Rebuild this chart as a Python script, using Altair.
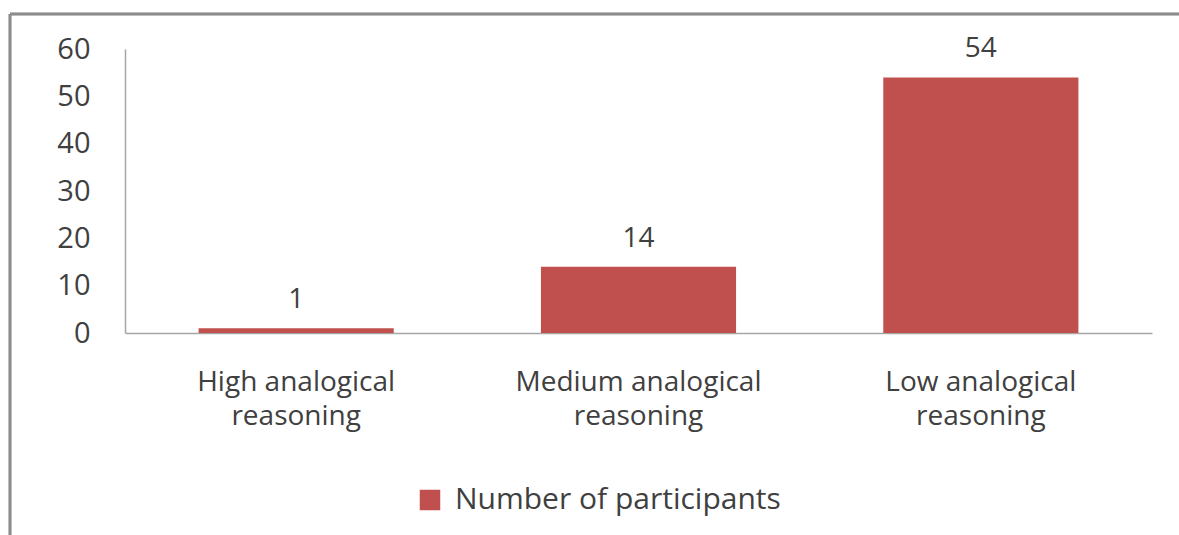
import altair as alt
import pandas as pd

categories = ["High analogical reasoning", "Medium analogical reasoning", "Low analogical reasoning"]
values = [1, 14, 54]
series = ["Number of participants"] * 3

df = pd.DataFrame({"category": categories, "value": values, "series": series})

FONT = "Open Sans"
TXT = "#404040"

base = alt.Chart(df)

bars = base.mark_bar(color="#C0504D").encode(
    x=alt.X("category:N", sort=categories, title=None,
            scale=alt.Scale(paddingInner=0.43, paddingOuter=0.215),
            axis=alt.Axis(labelAngle=0, labelFont=FONT, labelFontSize=28, labelColor=TXT,
                          labelLineHeight=34, labelPadding=35, ticks=False, domainColor="#A6A6A6",
                          domainWidth=1.5, labelLimit=0,
                          labelExpr="[substring(datum.label,0,lastindexof(datum.label,' ')), substring(datum.label,lastindexof(datum.label,' ')+1)]")),
    y=alt.Y("value:Q", title=None, scale=alt.Scale(domain=[0, 60]),
            axis=alt.Axis(values=[0, 10, 20, 30, 40, 50, 60], grid=False, ticks=False,
                          labelFont=FONT, labelFontSize=29, labelColor=TXT, labelPadding=35,
                          domainColor="#A6A6A6", domainWidth=1.5)),
    fill=alt.Fill("series:N", scale=alt.Scale(range=["#C0504D"]),
                  legend=alt.Legend(title=None, orient="none", legendX=290, legendY=436,
                                    symbolType="square", symbolSize=420, symbolStrokeWidth=0,
                                    labelFont=FONT, labelFontSize=30, labelColor=TXT,
                                    labelOffset=10, labelLimit=0)),
)

labels = base.mark_text(font=FONT, fontSize=28, color=TXT, dy=-28).encode(
    x=alt.X("category:N", sort=categories),
    y="value:Q",
    text="value:Q",
)

top_border = base.mark_rule(color="#8C8C8C", strokeWidth=2.5).encode(
    x=alt.value(-115), x2=alt.value(1060), y=alt.value(-35)
)
left_border = base.mark_rule(color="#8C8C8C", strokeWidth=2.5).encode(
    x=alt.value(-115), y=alt.value(-35), y2=alt.value(490)
)

chart = alt.layer(bars, labels, top_border, left_border).properties(
    width=1027, height=284,
    autosize=alt.AutoSizeParams(type="none"),
    padding={"left": 125, "top": 49, "right": 27, "bottom": 202},
    background="white",
).configure_view(stroke=None)

chart.save("out.html", embed_options={"renderer": "svg", "actions": False})
